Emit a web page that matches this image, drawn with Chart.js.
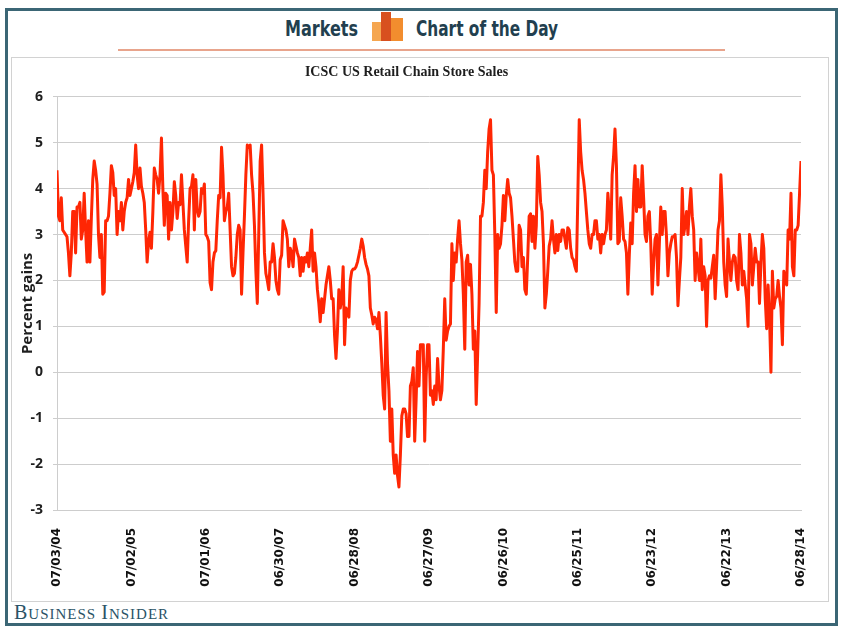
<!DOCTYPE html>
<html>
<head>
<meta charset="utf-8">
<title>ICSC US Retail Chain Store Sales</title>
<script src="https://cdn.jsdelivr.net/npm/chart.js@4.4.0/dist/chart.umd.min.js"></script>
<style>
  body { margin: 0; background: #fff; }
  #page { position: relative; width: 843px; height: 632px; overflow: hidden; background: #fff; }
  #frame { position: absolute; left: 5px; top: 8px; width: 833px; height: 618px; box-sizing: border-box; border: 3px solid #3b6675; }
  #box { position: absolute; left: 11px; top: 57px; width: 818px; height: 545px; box-sizing: border-box; border: 1px solid #d2d2d2; }
  .head { position: absolute; top: 18px; font: bold 22px "DejaVu Sans Condensed", "DejaVu Sans", sans-serif; line-height: 22px; color: #223f4f; white-space: nowrap; transform-origin: left top; }
  .bar { position: absolute; }
  #rule { position: absolute; left: 118px; top: 49px; width: 607px; height: 2px; background: #e8a48c; }
  #footer { position: absolute; left: 14px; top: 602px; font-family: "Liberation Serif", serif; color: #2b5366; line-height: 20px; letter-spacing: 1px; white-space: nowrap; }
  #footer .cap { font-size: 20px; }
  #footer .sm { font-size: 15px; }
  #gradeLine { position: absolute; left: 12px; top: 58px; }
</style>
</head>
<body>
<div id="page">
  <div id="frame"></div>
  <div id="box"></div>
  <div class="head" id="hMarkets" style="left:285px" data-w="73">Markets</div>
  <div class="bar" style="left:372px; top:22px; width:11px; height:19px; background:#f5a650"></div>
  <div class="bar" style="left:381px; top:12px; width:10px; height:29px; background:#d8501f"></div>
  <div class="bar" style="left:391px; top:18px; width:12px; height:23px; background:#f28d2e"></div>
  <div class="head" id="hChart" style="left:416px" data-w="142">Chart of the Day</div>
  <div id="rule"></div>
  <div id="footer"><span class="cap">B</span><span class="sm">USINESS</span> <span class="cap">I</span><span class="sm">NSIDER</span></div>
  <canvas id="gradeLine" width="816" height="542"></canvas>
</div>
<script>
// x axis labels, one every 52 weeks
const tickLabels = ["07/03/04", "07/02/05", "07/01/06", "06/30/07", "06/28/08", "06/27/09", "06/26/10", "06/25/11", "06/23/12", "06/22/13", "06/28/14"];

// weekly percent gains, one array per July-June year
const gains0405 = [4.4, 3.4, 3.3, 3.8, 3.1, 3.05, 3.0, 2.95, 2.6, 2.1, 2.6, 3.5, 3.5, 2.6, 3.6, 3.6, 3.7, 2.9, 3.1, 3.9, 3.1, 2.4, 3.3, 2.4, 3.35, 4.2, 4.6, 4.4, 4.1, 3.0, 2.5, 3.0, 1.7, 1.75, 3.3, 3.3, 3.4, 3.9, 4.5, 4.35, 3.85, 4.0, 3.0, 3.5, 3.3, 3.7, 3.1, 3.5, 3.7, 3.8, 4.2, 3.85];
const gains0506 = [4.0, 4.15, 4.35, 4.95, 4.3, 4.0, 4.45, 4.05, 3.9, 3.7, 3.1, 2.4, 2.85, 3.05, 2.7, 3.5, 4.45, 4.3, 4.2, 3.9, 4.3, 5.1, 4.0, 3.2, 3.9, 3.85, 2.9, 3.7, 3.1, 3.5, 4.15, 3.85, 3.35, 3.7, 3.65, 4.3, 3.7, 3.1, 2.75, 2.4, 3.3, 4.0, 4.05, 4.3, 3.1, 4.2, 3.55, 3.4, 3.5, 4.0, 3.9, 4.1];
const gains0607 = [3.0, 2.95, 2.85, 1.95, 1.8, 2.4, 2.6, 2.65, 3.3, 3.85, 3.8, 4.9, 4.3, 3.3, 3.5, 3.6, 3.9, 3.1, 2.3, 2.1, 2.15, 2.5, 3.0, 3.2, 3.1, 1.7, 2.6, 3.4, 4.3, 4.95, 4.9, 4.95, 4.3, 3.9, 3.2, 2.2, 1.5, 3.0, 4.6, 4.95, 3.9, 2.6, 2.15, 2.0, 1.8, 2.4, 2.4, 2.8, 2.5, 2.0, 1.8, 1.7];
const gains0708 = [2.45, 2.55, 3.3, 3.2, 3.1, 2.9, 2.3, 2.7, 2.6, 2.3, 2.9, 2.75, 2.6, 2.5, 2.1, 2.5, 2.2, 2.5, 2.4, 2.6, 2.3, 2.7, 3.1, 2.2, 2.6, 2.3, 1.8, 1.5, 1.1, 1.6, 1.3, 1.6, 1.9, 2.1, 2.3, 2.0, 1.6, 1.6, 0.8, 0.3, 0.9, 1.8, 1.4, 1.6, 2.3, 0.6, 1.4, 1.3, 1.2, 2.0, 2.2, 2.25];
const gains0809 = [2.25, 2.3, 2.4, 2.55, 2.7, 2.9, 2.75, 2.5, 2.35, 2.25, 2.1, 1.4, 1.25, 1.05, 1.2, 1.15, 0.95, 1.3, 0.8, 0.2, -0.5, -0.8, 1.3, 0.2, -0.4, -1.5, -0.8, -1.8, -2.2, -1.8, -2.25, -2.5, -1.8, -0.95, -0.8, -0.8, -0.9, -1.4, -1.4, -0.3, -0.2, 0.1, -1.5, -0.6, 0.45, -0.3, 0.6, 0.6, 0.6, -1.5, -0.1, 0.6];
const gains0910 = [0.6, -0.5, -0.4, -0.7, -0.3, -0.6, 0.3, -0.3, -0.6, -0.4, 0.5, 1.6, 0.7, 0.9, 1.0, 1.05, 2.8, 2.0, 2.6, 2.4, 2.9, 3.3, 2.8, 2.45, 1.7, 0.5, 2.4, 2.55, 1.9, 2.35, 1.7, 0.5, 0.9, -0.7, 0.4, 1.5, 3.4, 3.4, 3.7, 4.4, 4.0, 4.8, 5.3, 5.5, 4.4, 4.3, 3.0, 1.3, 3.0, 2.7, 2.8, 3.2];
const gains1011 = [3.85, 3.3, 3.85, 4.2, 3.9, 3.8, 3.4, 2.9, 2.4, 2.2, 2.2, 3.2, 3.1, 2.3, 2.5, 1.8, 1.7, 2.5, 3.4, 3.45, 2.85, 3.4, 2.7, 3.2, 4.7, 4.3, 3.7, 3.5, 2.8, 1.4, 1.7, 2.2, 2.75, 2.9, 3.3, 2.9, 2.6, 3.0, 2.65, 3.0, 2.85, 3.1, 3.1, 2.9, 2.7, 3.15, 3.1, 2.7, 2.5, 2.45, 2.3, 2.2];
const gains1112 = [3.8, 5.5, 4.8, 4.4, 4.2, 3.9, 3.5, 3.1, 2.8, 2.7, 3.0, 3.0, 3.3, 3.3, 2.9, 3.0, 2.6, 3.0, 2.8, 3.0, 3.1, 3.9, 3.5, 2.9, 4.3, 4.7, 5.3, 4.5, 2.8, 2.85, 3.8, 3.4, 2.9, 2.85, 2.6, 1.7, 2.55, 3.25, 2.8, 3.9, 4.5, 3.5, 4.2, 3.6, 3.6, 4.5, 3.8, 3.0, 2.85, 3.4, 3.5, 2.8];
const gains1213 = [1.7, 2.4, 2.9, 3.0, 1.9, 2.8, 3.6, 3.0, 3.5, 3.5, 2.95, 2.1, 2.6, 2.8, 2.95, 2.95, 3.0, 2.5, 1.45, 2.0, 2.5, 4.0, 3.0, 3.2, 3.5, 3.0, 3.6, 4.0, 3.4, 3.1, 2.0, 2.6, 2.3, 2.0, 2.9, 1.8, 2.3, 2.1, 1.0, 2.0, 2.1, 2.05, 2.3, 2.55, 1.6, 2.3, 3.1, 3.3, 4.3, 3.6, 2.4, 1.9];
const gains1314 = [1.65, 2.9, 2.4, 2.0, 2.4, 2.55, 2.5, 2.0, 1.8, 3.0, 2.6, 1.9, 2.2, 1.9, 1.6, 1.0, 3.0, 2.8, 1.9, 2.3, 2.7, 2.4, 2.4, 1.5, 2.4, 3.0, 2.7, 1.6, 0.95, 1.9, 1.2, 0.0, 2.2, 1.4, 1.6, 1.65, 2.0, 1.65, 1.4, 0.6, 2.2, 2.05, 1.9, 3.1, 2.9, 3.9, 2.3, 2.1, 3.1, 3.1, 3.2, 3.9, 4.6];

const weekly = [].concat(gains0405, gains0506, gains0607, gains0708, gains0809,
    gains0910, gains1011, gains1112, gains1213, gains1314);

// squeeze the header words to the condensed width of the original
document.querySelectorAll('.head').forEach(el => {
    const target = Number(el.dataset.w);
    el.style.transform = 'scaleX(' + (target / el.offsetWidth) + ')';
});

const ctx = document.getElementById("gradeLine");
const gridColor = "#cdcdcd";

const salesChart = new Chart(ctx, {
    type: 'line',
    data: {
        datasets: [{
            label: 'ICSC US Retail Chain Store Sales',
            data: weekly.map((v, i) => ({ x: i, y: v })),
            borderColor: 'rgb(255, 38, 4)',
            borderWidth: 3,
            borderJoinStyle: 'round',
            pointRadius: 0,
            tension: 0,
            fill: false
        }]
    },
    options: {
        responsive: false,
        animation: false,
        layout: {
            padding: { left: 0, right: 27, top: 0, bottom: 0 }
        },
        plugins: {
            legend: { display: false },
            tooltip: { enabled: false },
            title: {
                display: true,
                text: 'ICSC US Retail Chain Store Sales',
                color: '#1e1e1e',
                font: { family: 'Liberation Serif', size: 14, weight: 'bold', lineHeight: 1.2 },
                padding: { top: 6, bottom: 16 }
            }
        },
        scales: {
            x: {
                type: 'linear',
                min: 0,
                max: 520,
                grid: { display: false },
                border: { display: true, color: gridColor },
                ticks: {
                    stepSize: 52,
                    autoSkip: false,
                    maxTicksLimit: 20,
                    minRotation: 90,
                    maxRotation: 90,
                    padding: 10,
                    color: '#111',
                    font: { family: 'DejaVu Sans', size: 12, weight: 'bold' },
                    callback: (value) => tickLabels[value / 52]
                },
                afterFit: (scale) => { scale.height = 90; }
            },
            y: {
                min: -3,
                max: 6,
                grid: { color: gridColor, lineWidth: 1, tickLength: 4 },
                border: { display: true, color: gridColor },
                ticks: {
                    stepSize: 1,
                    padding: 10,
                    color: '#1e1e1e',
                    font: { family: 'Open Sans', size: 14, weight: 'bold' }
                },
                title: {
                    display: true,
                    text: 'Percent gains',
                    color: '#1e1e1e',
                    font: { family: 'Open Sans', size: 15, weight: 'bold', lineHeight: 1.2 },
                    padding: { top: 7, bottom: 0 }
                },
                afterFit: (scale) => { scale.width = 45; }
            }
        }
    }
});
</script>
</body>
</html>
